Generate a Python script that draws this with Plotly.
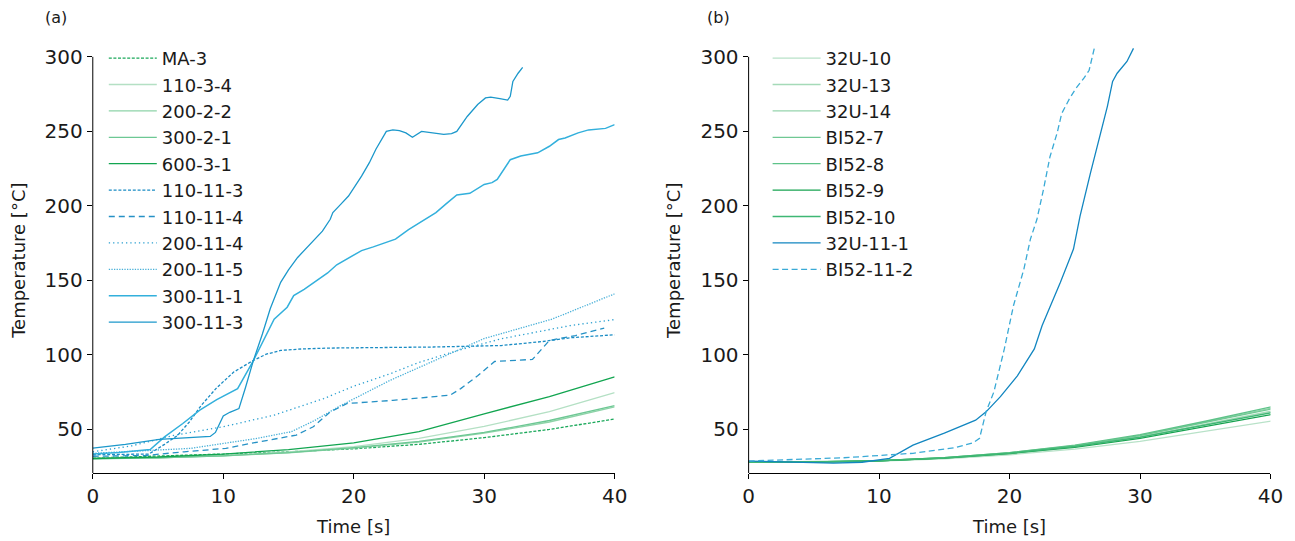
import plotly.graph_objects as go

# ---------------- Panel (a) data ----------------
t_green = [0, 5, 10, 15, 20, 25, 30, 35, 40]
ma_3 = [30.8, 32.0, 33.5, 35.0, 37.0, 40.0, 44.5, 50.0, 57.0]
s110_3_4 = [30.5, 31.0, 32.5, 35.0, 38.5, 44.0, 52.0, 62.0, 74.7]
s200_2_2 = [30.5, 31.0, 32.3, 34.3, 37.5, 41.5, 47.5, 55.0, 65.2]
s300_2_1 = [30.3, 31.0, 32.3, 34.5, 37.8, 42.0, 48.0, 56.0, 66.0]
s600_3_1 = [30.5, 31.5, 33.5, 36.5, 41.0, 48.5, 60.5, 72.0, 85.3]

t_110_11_3 = [0, 2, 4.3, 5.5, 6.5, 7.4, 8.3, 9.5, 10.8, 12.3, 13.3, 14.4, 16, 18.2, 22.8, 26.1, 31.3, 34.5, 36.6, 40]
v_110_11_3 = [33, 33, 33.5, 40, 46, 55, 66, 78, 88.5, 96.3, 100.5, 103, 104, 104.6, 105, 105.3, 106.3, 109, 111.5, 113.5]

t_110_11_4 = [0, 4, 7, 10.2, 12, 13.8, 15.6, 16.9, 18.2, 19.5, 23, 27.4, 28.2, 29.5, 30.8, 33.7, 35.0, 37, 39.2]
v_110_11_4 = [32, 32.5, 35, 37.3, 40.5, 43.3, 46.2, 51.8, 61.8, 67.4, 69.5, 73, 77.4, 86, 95.6, 97, 109.7, 113, 118]

t_200_11_4 = [0, 3, 6.2, 10, 13.9, 17.7, 20, 22.8, 25, 28, 31.3, 34, 36.6, 40]
v_200_11_4 = [35, 39, 46, 51.8, 59.6, 70.7, 79, 87.4, 95, 103, 110.8, 115.5, 119.7, 123.7]

t_200_11_5 = [0, 4, 7.5, 12.6, 15.2, 17, 19, 22.8, 26.1, 30, 35.2, 40]
v_200_11_5 = [34, 35.5, 37.3, 44, 48.4, 56, 66, 83, 96, 111, 124, 141]

t_300_11_1 = [0, 2, 4.4, 5.5, 6.9, 8.2, 9.5, 11.1, 12.3, 13.9, 14.9, 15.4, 16.2, 17.0, 18.0, 18.7, 20.1, 20.6,
              21.5, 22.5, 23.2, 24.2, 25.3, 26.3, 27.1, 27.9, 28.9, 30.0, 30.6, 31.0, 32.0, 32.8, 34.1, 35.0,
              35.7, 36.2, 37.2, 38.0, 39.3, 40.0]
v_300_11_1 = [33.5, 34.5, 36.5, 45, 54, 63, 70, 77.4, 96, 124, 132, 139.8, 144, 148.7, 155, 160.5, 167.6, 170,
              172.5, 175.5, 177.7, 184, 190, 195.5, 201.5, 207.3, 208.4, 214.4, 215.6, 217.8, 231, 233.5, 235.6, 240,
              244.5, 245.6, 249, 251, 252, 254.5]

t_300_11_3 = [0, 2.5, 5.1, 7.7, 9.0, 9.4, 9.7, 10.0, 10.5, 11.2, 11.7, 12.3, 13.0, 13.6, 14.4, 15.0, 15.7, 16.3,
              17.0, 17.6, 18.2, 18.4, 19.0, 19.6, 20.6, 21.2, 21.7, 22.5, 23.0, 23.5, 24.0, 24.5, 25.2, 26.0,
              26.9, 27.5, 27.9, 28.7, 29.5, 30.1, 30.5, 31.2, 31.8, 32.0, 32.2, 32.6, 32.95]
v_300_11_3 = [37.5, 40, 43.3, 44.7, 45.3, 48, 54, 59, 61.5, 64, 78, 96, 114, 131, 148.7, 157, 165.4, 171,
              177.7, 183, 191, 195.5, 201, 206.6, 220, 229, 238, 250, 251, 250.5, 249, 246, 250, 249,
              248, 248.5, 250, 260, 268, 272.4, 273, 272, 271, 273.5, 283.5, 289, 293]

# ---------------- Panel (b) data ----------------
t_b_green = [0, 5, 10, 15, 20, 25, 30, 35, 40.5]
u32_10 = [28, 28.0, 28.7, 30.3, 33.0, 36.8, 42.0, 48.5, 56.2]
u32_13 = [28, 28.2, 29.0, 30.9, 34.0, 38.6, 45.0, 53.3, 63.0]
u32_14 = [28, 28.3, 29.1, 31.0, 34.4, 39.2, 46.0, 55.0, 65.2]
bi52_7 = [28, 28.2, 29.0, 31.0, 34.3, 39.0, 45.8, 54.5, 64.5]
bi52_8 = [28, 28.2, 29.0, 31.0, 34.5, 39.5, 46.5, 55.5, 66.0]
bi52_9 = [28, 28.1, 28.9, 30.7, 33.8, 38.0, 44.0, 51.7, 60.7]
bi52_10 = [28, 28.2, 29.0, 30.8, 34.0, 38.5, 44.7, 52.7, 62.0]

t_32u_11_1 = [0, 2, 4.7, 6.5, 8.7, 10.8, 12.6, 15.0, 17.4, 18.2, 19.3, 20.6, 21.9, 22.5, 23.9, 24.9, 25.4,
              26.2, 27.5, 27.9, 28.25, 29.0, 29.5]
v_32u_11_1 = [28.8, 28.3, 27.6, 27.4, 28, 30.6, 39.5, 47.5, 56.2, 61.8, 72, 86, 104, 119.7, 148.7, 171, 193,
              222, 266.8, 283.5, 289, 296.9, 305.7]

t_bi52_11_2 = [0, 2.0, 4.5, 7.3, 10, 12.6, 15.8, 17.2, 17.7, 18.2, 18.8, 19.6, 20.3, 21.1, 21.6, 22.1, 22.6,
               23.1, 23.65, 24.0, 24.6, 25.1, 25.7, 26.1, 26.5]
v_bi52_11_2 = [28.8, 29.5, 30.3, 31, 32.5, 34, 37.7, 41, 44, 61.8, 75.2, 104, 133, 157.6, 177.7, 191, 211,
               233, 249, 262, 272, 279, 285.7, 291, 305.8]

Y_MIN, Y_MAX = 20.6, 306.5
W, H = 1295, 533
FONT = "DejaVu Sans"


def fx(x_ref):
    # figure pixel for a reference pixel (page margin and observed horizontal scaling)
    return (x_ref - 5.3) / 0.9856 - 8


def fy(y_ref):
    return y_ref - 10


def px(x):
    return fx(x) / W


def py(y):
    return 1 - fy(y) / H


fig = go.Figure()


def add(x, y, name, color, dash="solid", width=1.3, panel=1):
    fig.add_trace(go.Scatter(
        x=x, y=y, name=name, mode="lines",
        line=dict(color=color, width=width, dash=dash),
        xaxis="x" if panel == 1 else "x2",
        yaxis="y" if panel == 1 else "y2",
        legend="legend" if panel == 1 else "legend2",
        hoverinfo="skip",
    ))


# panel (a)
add(t_green, ma_3, "MA-3", "#1aa85a", dash="3px,1.6px")
add(t_green, s110_3_4, "110-3-4", "#b4e0c4")
add(t_green, s200_2_2, "200-2-2", "#8ed3a8")
add(t_green, s300_2_1, "300-2-1", "#6dc894")
add(t_green, s600_3_1, "600-3-1", "#12a550")
add(t_110_11_3, v_110_11_3, "110-11-3", "#1a8cc4", dash="3px,1.8px")
add(t_110_11_4, v_110_11_4, "110-11-4", "#2591c5", dash="6px,4px")
add(t_200_11_4, v_200_11_4, "200-11-4", "#2a9fd0", dash="1.3px,3px")
add(t_200_11_5, v_200_11_5, "200-11-5", "#49b0d8", dash="1.3px,1.3px")
add(t_300_11_1, v_300_11_1, "300-11-1", "#33b0dc", width=1.5)
add(t_300_11_3, v_300_11_3, "300-11-3", "#1c98cb")

# panel (b)
add(t_b_green, u32_10, "32U-10", "#b8e2c8", panel=2)
add(t_b_green, u32_13, "32U-13", "#a5dab8", panel=2)
add(t_b_green, u32_14, "32U-14", "#96d4ad", panel=2)
add(t_b_green, bi52_7, "BI52-7", "#6fc893", panel=2)
add(t_b_green, bi52_8, "BI52-8", "#5ec389", panel=2)
add(t_b_green, bi52_9, "BI52-9", "#17a350", panel=2)
add(t_b_green, bi52_10, "BI52-10", "#3fb774", width=1.5, panel=2)
add(t_32u_11_1, v_32u_11_1, "32U-11-1", "#1286c0", panel=2)
add(t_bi52_11_2, v_bi52_11_2, "BI52-11-2", "#3aaad6", dash="6px,3.5px", panel=2)

ydom = [py(475), py(47.3)]
axis_common = dict(
    showgrid=False, zeroline=False, ticks="outside", ticklen=5, tickwidth=1,
    tickcolor="black", tickfont=dict(family=FONT, size=20, color="#1a1a1a"),
)
xcommon = dict(axis_common, range=[0, 40], tickvals=[0, 10, 20, 30, 40],
               showline=True, linecolor="black", linewidth=1,
               title=dict(text="Time [s]", font=dict(family=FONT, size=18, color="#1a1a1a"), standoff=13))
ycommon = dict(axis_common, range=[Y_MIN, Y_MAX], tickvals=[50, 100, 150, 200, 250, 300],
               showline=False,
               title=dict(text="Temperature [°C]", font=dict(family=FONT, size=18, color="#1a1a1a"), standoff=15))

legend_common = dict(xanchor="left", yanchor="top", bgcolor="rgba(0,0,0,0)",
                     font=dict(family=FONT, size=18, color="#1a1a1a"),
                     itemwidth=48, tracegroupgap=0)

fig.update_layout(
    width=W, height=H,
    margin=dict(l=0, r=0, t=0, b=0),
    paper_bgcolor="white", plot_bgcolor="white",
    font=dict(family=FONT, color="#1a1a1a"),
    xaxis=dict(xcommon, domain=[px(92), px(614)], anchor="y"),
    yaxis=dict(ycommon, domain=ydom, anchor="x"),
    xaxis2=dict(xcommon, domain=[px(748), px(1270)], anchor="y2"),
    yaxis2=dict(ycommon, domain=ydom, anchor="x2"),
    legend=dict(legend_common, x=px(103), y=py(40)),
    legend2=dict(legend_common, x=px(767), y=py(40)),
    showlegend=True,
)

# bounded y-axis spines (from bottom to 300)
for xr, yr in (("x domain", "y"), ("x2 domain", "y2")):
    fig.add_shape(type="line", xref=xr, yref=yr, x0=0, x1=0, y0=Y_MIN, y1=300,
                  line=dict(color="black", width=1))

for label, xx in (("(a)", 55), ("(b)", 718)):
    fig.add_annotation(text=label, x=px(xx), y=py(18), xref="paper", yref="paper",
                       xanchor="center", yanchor="middle", showarrow=False,
                       font=dict(family=FONT, size=16, color="#1a1a1a"))

fig.write_html("out.html")
